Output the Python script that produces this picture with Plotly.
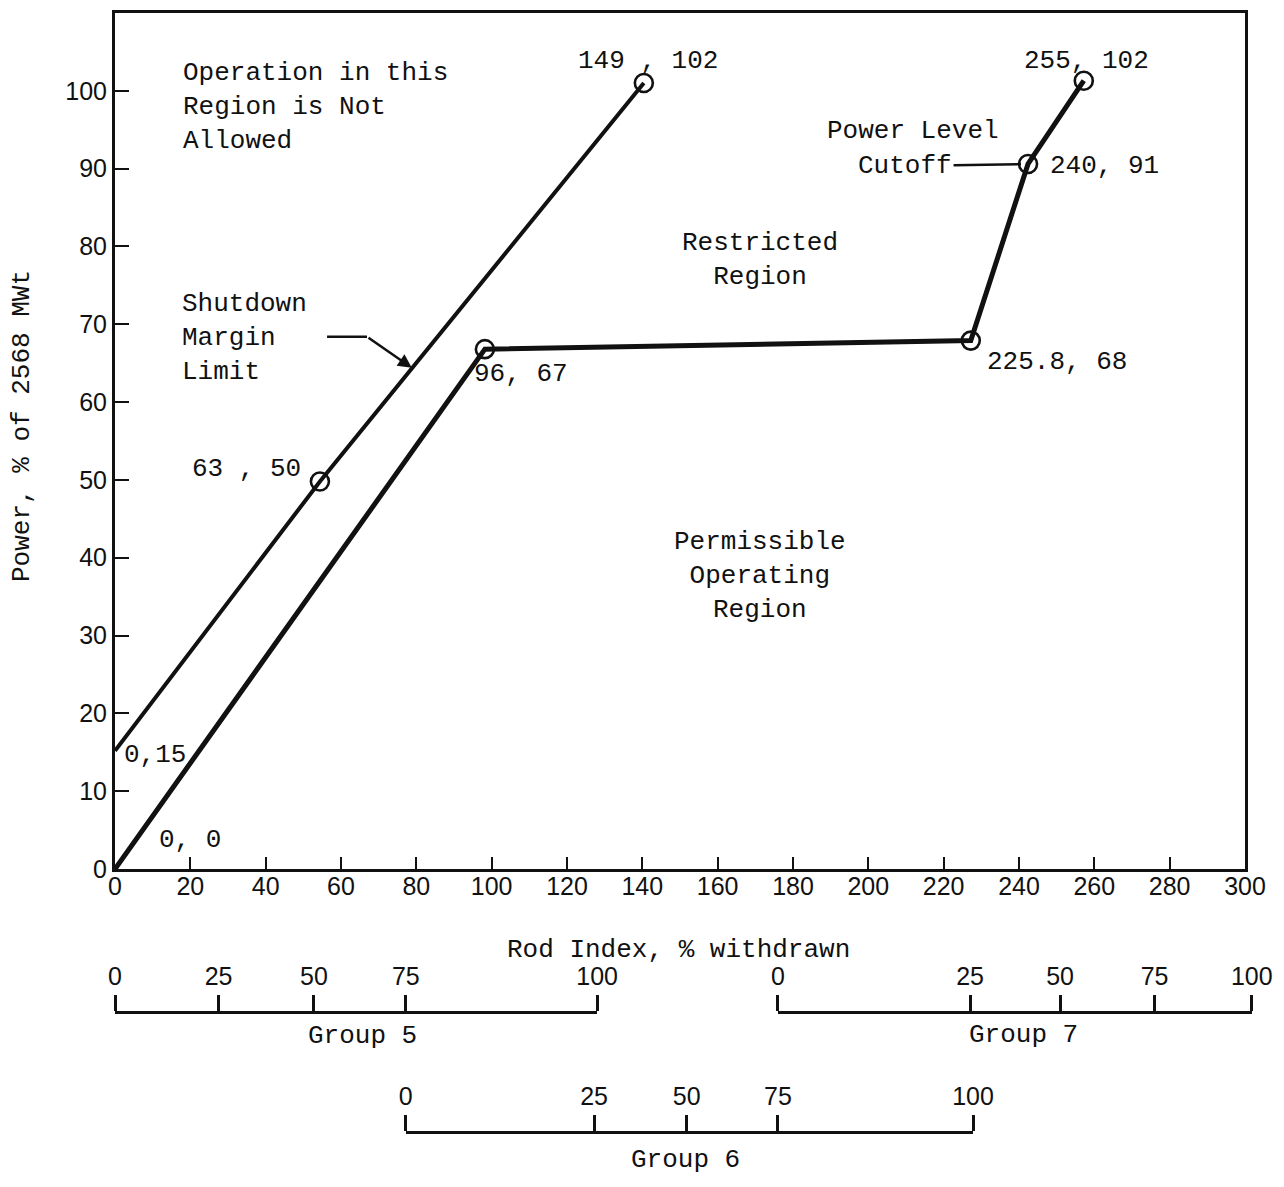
import plotly.graph_objects as go

# page is 1284x1187; the browser body keeps its default 8px margin
PAGE_W, PAGE_H = 1284, 1187
OFF = 8
W, H = PAGE_W - 2 * OFF, PAGE_H - 2 * OFF

# ---- data -------------------------------------------------------------
x_ticks = list(range(0, 301, 20))
y_ticks = list(range(0, 101, 10))

# Shutdown margin limit (rod index %, power %)
sdm_x = [0, 54.4, 140.4]
sdm_y = [15.2, 49.8, 101.0]

# Insertion limit curve (rod index %, power %)
lim_x = [0, 98.2, 227.2, 242.4, 257.2]
lim_y = [0, 66.8, 67.9, 90.6, 101.3]

# Group scales: % withdrawn labels and matching rod-index positions
group_labels = ["0", "25", "50", "75", "100"]
group5_rod = [0, 27.5, 52.8, 77.2, 128.0]
group6_rod = [77.2, 127.2, 151.8, 176.0, 227.8]
group7_rod = [176.0, 227.0, 250.9, 276.0, 301.8]


# ---- layout geometry (page pixels -> paper fractions) ------------------
def fx(px):
    return (px - OFF) / W


def fy(py):
    return 1 - (py - OFF) / H


X0, X1 = fx(115), fx(1245)
Y0, Y1 = fy(869), fy(13)
XMAX, YMAX = 300, 110

MONO = "Liberation Mono"
SANS = "Liberation Sans"
INK = "#111111"


def xdom(r0, r1):
    return [X0 + r0 / XMAX * (X1 - X0), X0 + r1 / XMAX * (X1 - X0)]


fig = go.Figure()

fig.add_trace(go.Scatter(x=sdm_x, y=sdm_y, mode="lines",
                         line=dict(color=INK, width=4), hoverinfo="skip"))
fig.add_trace(go.Scatter(x=lim_x, y=lim_y, mode="lines",
                         line=dict(color=INK, width=5), hoverinfo="skip"))
marker = dict(symbol="circle-open", size=18, color=INK, line=dict(width=2.6))
fig.add_trace(go.Scatter(x=sdm_x[1:], y=sdm_y[1:], mode="markers",
                         marker=marker, hoverinfo="skip"))
fig.add_trace(go.Scatter(x=lim_x[1:], y=lim_y[1:], mode="markers",
                         marker=marker, hoverinfo="skip"))

# invisible carriers for the group scale axes
for ax, vals in (("x2", group5_rod), ("x3", group6_rod), ("x4", group7_rod)):
    fig.add_trace(go.Scatter(x=vals, y=[0] * len(vals), xaxis=ax, yaxis="y",
                             mode="markers", marker=dict(opacity=0),
                             hoverinfo="skip", showlegend=False))

tickfont = dict(family=SANS, size=25, color=INK)


def group_axis(vals, pos):
    return dict(domain=xdom(vals[0], vals[-1]), range=[vals[0], vals[-1]],
                anchor="free", position=pos, side="top", automargin=False,
                tickmode="array", tickvals=vals, ticktext=group_labels,
                ticks="outside", ticklen=16, tickwidth=2.5, tickcolor=INK,
                showline=True, linewidth=2.5, linecolor=INK,
                showgrid=False, zeroline=False, tickfont=tickfont,
                fixedrange=True)


fig.update_layout(
    template="none",
    width=W, height=H, autosize=False,
    margin=dict(l=0, r=0, t=0, b=0, pad=0),
    paper_bgcolor="white", plot_bgcolor="rgba(0,0,0,0)",
    showlegend=False,
    xaxis=dict(domain=[X0, X1], range=[0, XMAX], tickmode="array",
               automargin=False, ticklabelstandoff=-7,
               tickvals=x_ticks, ticks="inside", ticklen=12, tickwidth=2.2,
               tickcolor=INK, showline=True, mirror=True, linewidth=3,
               linecolor=INK, showgrid=False, zeroline=False,
               tickfont=tickfont, fixedrange=True),
    yaxis=dict(domain=[Y0, Y1], range=[0, YMAX], tickmode="array",
               automargin=False,
               tickvals=y_ticks, ticks="inside", ticklen=14, tickwidth=2.2,
               tickcolor=INK, showline=True, mirror=True, linewidth=3,
               linecolor=INK, showgrid=False, zeroline=False,
               tickfont=tickfont, fixedrange=True),
    xaxis2=group_axis(group5_rod, fy(1012)),
    xaxis3=group_axis(group6_rod, fy(1132)),
    xaxis4=group_axis(group7_rod, fy(1012)),
)

tf = dict(family=MONO, size=26, color=INK)


def note(text, x, y, xanchor="left", align="left"):
    fig.add_annotation(text=text, x=x, y=y, xref="x", yref="y",
                       xanchor=xanchor, yanchor="middle", align=align,
                       showarrow=False, font=tf)


def pnote(text, px, py):
    fig.add_annotation(text=text, x=fx(px), y=fy(py), xref="paper",
                       yref="paper", xanchor="center", yanchor="middle",
                       showarrow=False, font=tf)


note("Operation in this<br>Region is Not<br>Allowed", 17.5, 97.9)
note("149 , 102", 122.3, 103.8)
note("255, 102", 240.8, 103.8)
note("Power Level", 188.5, 94.8)
note("240, 91", 247.7, 90.3)
note("Restricted<br>Region", 171.2, 78.2, xanchor="center", align="center")
note("Shutdown<br>Margin<br>Limit", 17.3, 68.2)
note("96, 67", 94.8, 63.6)
note("225.8, 68", 231.0, 65.1)
note("63 , 50", 19.9, 51.4)
note("0,15", 1.9, 14.6)
note("0, 0", 11.2, 3.7)
note("Permissible<br>Operating<br>Region", 171.2, 37.7, xanchor="center",
     align="center")

# Cutoff leader line to the 240, 91 point
fig.add_annotation(text="Cutoff", x=lim_x[3], y=lim_y[3], xref="x", yref="y",
                   ax=-123, ay=2, axref="pixel", ayref="pixel",
                   showarrow=True, arrowhead=0, arrowwidth=2.5,
                   arrowcolor=INK, standoff=7, font=tf)

# Shutdown margin pointer (bent arrow)
fig.add_shape(type="line", xref="x", yref="y", x0=56.3, y0=68.4, x1=66.9,
              y1=68.4, line=dict(color=INK, width=2.5))
fig.add_annotation(text="", x=78.8, y=64.4, xref="x", yref="y",
                   ax=66.9, ay=68.4, axref="x", ayref="y",
                   showarrow=True, arrowhead=2, arrowsize=1.1, arrowwidth=2.5,
                   arrowcolor=INK)

# axis titles and group names
pnote("Rod Index, % withdrawn", 678, 950)
pnote("Group 5", 362, 1036)
pnote("Group 7", 1023, 1035)
pnote("Group 6", 685, 1160)
fig.add_annotation(text="Power, % of 2568 MWt", x=fx(22), y=fy(426),
                   xref="paper", yref="paper", xanchor="center",
                   yanchor="middle", textangle=-90, showarrow=False, font=tf)

fig.write_html("out.html", config={"displayModeBar": False,
                                   "responsive": False})
